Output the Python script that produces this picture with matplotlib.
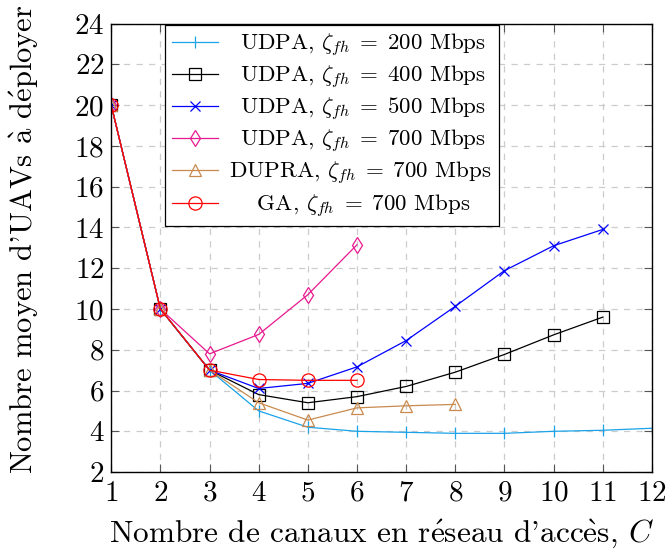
import numpy as np
import matplotlib.pyplot as plt

plt.rcParams['font.family'] = ['cmr10', 'DejaVu Serif']
plt.rcParams['mathtext.fontset'] = 'cm'
plt.rcParams['axes.formatter.use_mathtext'] = True

# nombre de canaux
C = [1, 2, 3, 4, 5, 6, 7, 8, 9, 10, 11, 12]

udpa_200 = [20, 10, 7, 5.0, 4.2, 4.0, 3.95, 3.9, 3.9, 4.0, 4.05, 4.15]
udpa_400 = [20, 10, 7, 5.8, 5.4, 5.7, 6.2, 6.9, 7.77, 8.73, 9.6]
udpa_500 = [20, 10, 7, 6.1, 6.35, 7.16, 8.45, 10.13, 11.88, 13.1, 13.9]
udpa_700 = [20, 10, 7.8, 8.75, 10.7, 13.15]
dupra_700 = [20, 10, 7, 5.4, 4.55, 5.15, 5.25, 5.32]
ga_700 = [20, 10, 7, 6.54, 6.5, 6.5]

# petits espaces en tête pour centrer les libellés dans la légende
labels = [
    r'$\;\;$UDPA, $\zeta_{fh}\;=\;200$ Mbps',
    r'$\;\;$UDPA, $\zeta_{fh}\;=\;400$ Mbps',
    r'$\;\;$UDPA, $\zeta_{fh}\;=\;500$ Mbps',
    r'$\;\;$UDPA, $\zeta_{fh}\;=\;700$ Mbps',
    r'DUPRA, $\zeta_{fh}\;=\;700$ Mbps',
    r'$\;\;\;\;\;$GA, $\zeta_{fh}\;=\;700$ Mbps',
]

fig = plt.figure(figsize=(6.7, 5.6), dpi=100)
ax = fig.add_axes([0.166, 0.157, 0.807, 0.801])

series = [
    (udpa_200, '#1aa3e8', '|', 9),
    (udpa_400, 'black', 's', 8),
    (udpa_500, '#0000ff', 'x', 7),
    (udpa_700, '#e8198f', 'd', 8),
    (dupra_700, '#c88a4e', '^', 8),
    (ga_700, '#ff0000', 'o', 9.5),
]
for (vals, col, mk, ms), lab in zip(series, labels):
    ax.plot(C[:len(vals)], vals, color=col, lw=0.9, marker=mk, ms=ms,
            mfc='none', mec=col, mew=0.9, label=lab)

ax.set_xlim(1, 12)
ax.set_ylim(2, 24)
ax.set_xticks(range(1, 13))
ax.set_yticks(range(2, 25, 2))
ax.grid(True, ls=(0, (5, 5)), color='#cccccc', lw=0.9)
ax.tick_params(direction='in', top=True, right=True, labelsize=21, length=6,
               color='#555555')
ax.tick_params(axis='x', pad=6)
ax.tick_params(axis='y', pad=5)
for s in ax.spines.values():
    s.set_linewidth(1.0)

ax.set_xlabel(r"Nombre de canaux en r$\acute{\mathrm{e}}$seau d'acc$\grave{\mathrm{e}}$s, $C$",
              fontsize=22.5, labelpad=8)
ax.set_ylabel(r"Nombre moyen d'UAVs $\grave{\mathrm{a}}$ d$\acute{\mathrm{e}}$ployer",
              fontsize=22)
ax.yaxis.set_label_coords(-0.13, 0.52)

leg = ax.legend(loc='upper left', bbox_to_anchor=(0.10, 0.997), fontsize=16.5,
                fancybox=False, framealpha=1, edgecolor='black',
                handlelength=2.0, labelspacing=0.22, borderpad=0.3,
                handletextpad=0.5, borderaxespad=0)
leg.get_frame().set_linewidth(0.9)

fig.savefig('out.png', dpi=100)
